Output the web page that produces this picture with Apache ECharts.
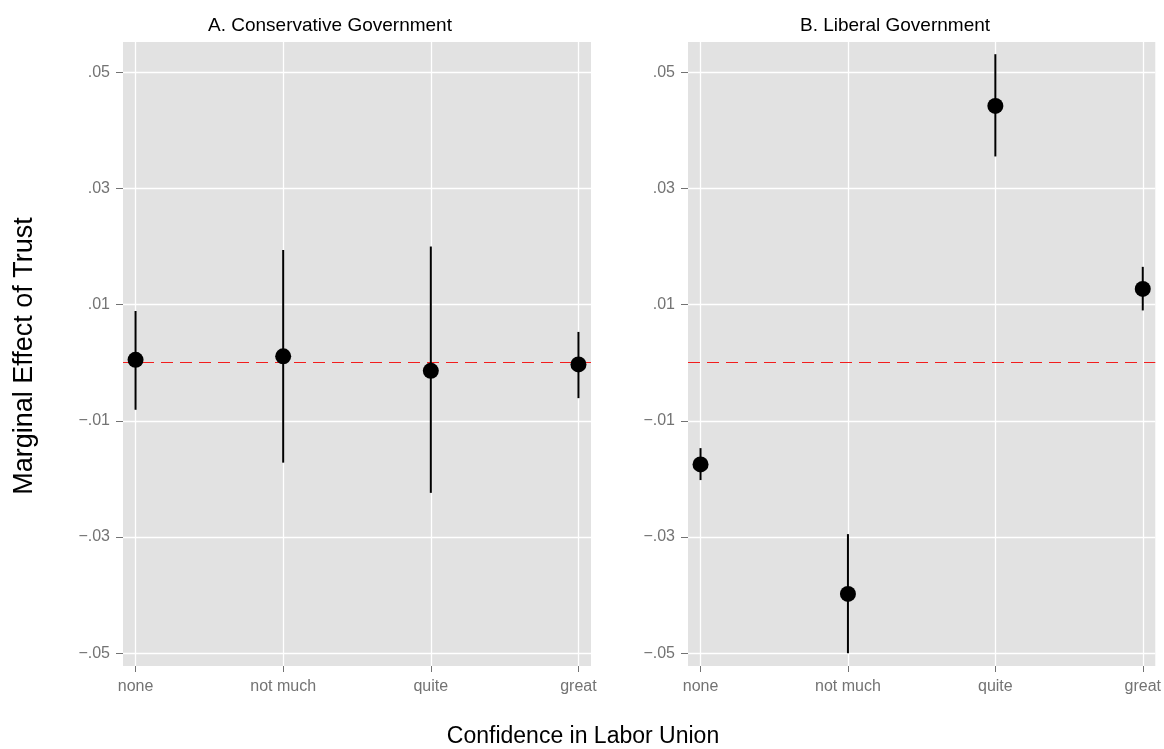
<!DOCTYPE html>
<html>
<head>
<meta charset="utf-8">
<script src="https://cdn.jsdelivr.net/npm/echarts@6/dist/echarts.min.js"></script>
<style>
html,body{margin:0;padding:0;background:#fff;}
#chart{width:1164px;height:749px;}
</style>
</head>
<body>
<div id="chart"></div>
<script>
const categories = ['none', 'not much', 'quite', 'great'];
const yTickValues = [-0.05, -0.03, -0.01, 0.01, 0.03, 0.05];
const yTickLabels = ['\u2212.05', '\u2212.03', '\u2212.01', '.01', '.03', '.05'];
const panelTitles = ['A. Conservative Government', 'B. Liberal Government'];
const xAxisTitle = 'Confidence in Labor Union';
const yAxisTitle = 'Marginal Effect of Trust';

const consEst  = [0.0005, 0.0011, -0.0014, -0.0003];
const consLow  = [-0.0081, -0.0172, -0.0224, -0.0061];
const consHigh = [0.0089, 0.0194, 0.0200, 0.0053];

const libEst  = [-0.0175, -0.0398, 0.0442, 0.0127];
const libLow  = [-0.0202, -0.0500, 0.0355, 0.0090];
const libHigh = [-0.0147, -0.0295, 0.0531, 0.0165];

const chart = echarts.init(document.getElementById('chart'));
const FONT = 'Liberation Sans, Arial, Helvetica, sans-serif';
const tickGray = '#737373';

function xAxisCfg(gi) {
  return {
    type: 'value', gridIndex: gi, min: -0.085, max: 3.085,
    axisLine: {show: false, onZero: false},
    axisTick: {show: true, customValues: [0, 1, 2, 3], length: 6, lineStyle: {color: tickGray, width: 1}},
    axisLabel: {customValues: [0, 1, 2, 3], formatter: v => categories[Math.round(v)], color: tickGray,
      fontSize: 16, fontFamily: FONT, margin: 13},
    splitLine: {show: true, lineStyle: {color: '#ffffff', width: 1.3}}
  };
}
function yAxisCfg(gi) {
  return {
    type: 'value', gridIndex: gi, min: -0.0522, max: 0.0552,
    axisLine: {show: false, onZero: false},
    axisTick: {show: true, customValues: yTickValues, length: 7, lineStyle: {color: tickGray, width: 1}},
    axisLabel: {customValues: yTickValues, formatter: v => {
        const i = yTickValues.findIndex(t => Math.abs(t - v) < 1e-9);
        return i >= 0 ? yTickLabels[i] : '';
      }, color: tickGray, fontSize: 16, fontFamily: FONT, margin: 13},
    splitLine: {show: true, lineStyle: {color: '#ffffff', width: 1.3}}
  };
}

function errSeries(gi, lows, highs) {
  return {
    type: 'custom', xAxisIndex: gi, yAxisIndex: gi, z: 2, clip: false,
    data: lows.map((l, i) => [i, l, highs[i]]),
    renderItem: function (params, api) {
      const x = api.value(0);
      const p1 = api.coord([x, api.value(1)]);
      const p2 = api.coord([x, api.value(2)]);
      return {type: 'line', shape: {x1: p1[0], y1: p1[1], x2: p2[0], y2: p2[1]},
        style: {stroke: '#000000', lineWidth: 2}};
    },
    markLine: {
      silent: true, symbol: 'none', z: 1,
      label: {show: false},
      lineStyle: {color: '#f21d1d', type: [12, 7], width: 1.2},
      data: [{yAxis: 0}]
    }
  };
}
function ptSeries(gi, est) {
  return {
    type: 'scatter', xAxisIndex: gi, yAxisIndex: gi, z: 3, clip: false,
    symbol: 'circle', symbolSize: 16,
    itemStyle: {color: '#000000', opacity: 1},
    data: est.map((v, i) => [i, v])
  };
}

const option = {
  backgroundColor: '#ffffff',
  animation: false,
  grid: [
    {left: 123, top: 42, width: 468, height: 624, show: true, backgroundColor: '#e2e2e2', borderWidth: 0},
    {left: 688, top: 42, width: 468, height: 624, show: true, backgroundColor: '#e2e2e2', borderWidth: 0}
  ],
  xAxis: [xAxisCfg(0), xAxisCfg(1)],
  yAxis: [yAxisCfg(0), yAxisCfg(1)],
  series: [
    errSeries(0, consLow, consHigh), ptSeries(0, consEst),
    errSeries(1, libLow, libHigh), ptSeries(1, libEst)
  ],
  graphic: [
    {type: 'text', x: 330, y: 26, style: {text: panelTitles[0], fill: '#000000', font: '19px ' + FONT, textAlign: 'center', textVerticalAlign: 'middle'}},
    {type: 'text', x: 895, y: 26, style: {text: panelTitles[1], fill: '#000000', font: '19px ' + FONT, textAlign: 'center', textVerticalAlign: 'middle'}},
    {type: 'text', x: 583, y: 737, style: {text: xAxisTitle, fill: '#000000', font: '23px ' + FONT, textAlign: 'center', textVerticalAlign: 'middle'}},
    {type: 'text', x: 25, y: 356, rotation: Math.PI / 2, style: {text: yAxisTitle, fill: '#000000', font: '27px ' + FONT, textAlign: 'center', textVerticalAlign: 'middle'}}
  ]
};
chart.setOption(option);
</script>
</body>
</html>
